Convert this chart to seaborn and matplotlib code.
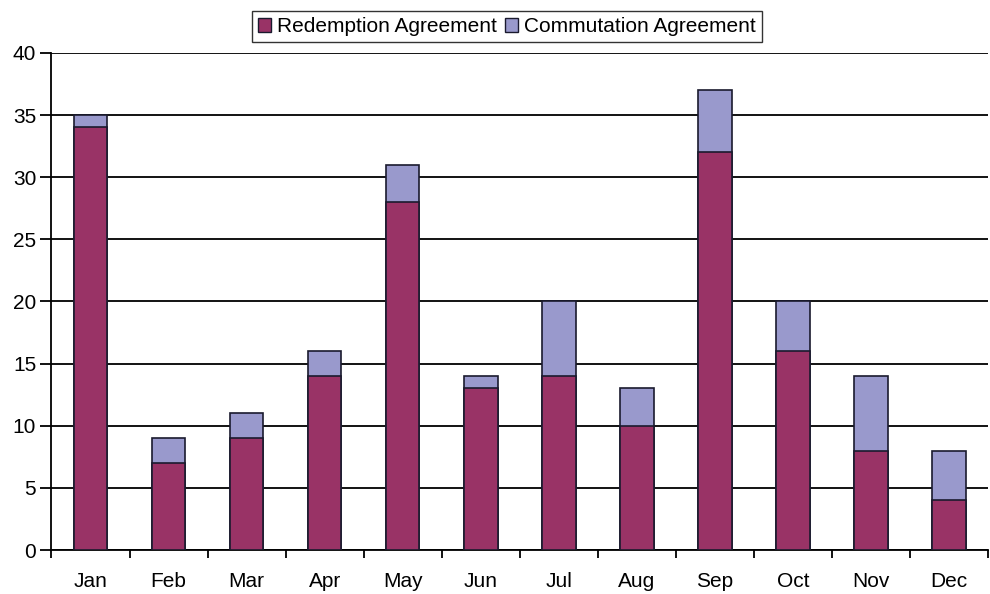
import numpy as np
import pandas as pd
import matplotlib
matplotlib.use("Agg")
import matplotlib.pyplot as plt
from matplotlib.patches import Patch
import seaborn as sns

# Monthly counts
months = ["Jan", "Feb", "Mar", "Apr", "May", "Jun", "Jul", "Aug", "Sep", "Oct", "Nov", "Dec"]
redemption = [34, 7, 9, 14, 28, 13, 14, 10, 32, 16, 8, 4]
commutation = [1, 2, 2, 2, 3, 1, 6, 3, 5, 4, 6, 4]

red_color = "#993366"
com_color = "#9999CC"
edge = "#1a1a2e"

df = pd.DataFrame({"month": months, "redemption": redemption, "commutation": commutation})
df["total"] = df["redemption"] + df["commutation"]

sns.set_style("white")
plt.rcParams["font.family"] = ["Liberation Sans", "DejaVu Sans"]
plt.rcParams["text.color"] = "black"
plt.rcParams["xtick.color"] = "black"
plt.rcParams["ytick.color"] = "black"

fig = plt.figure(figsize=(9.9, 5.94), dpi=100)
ax = fig.add_axes([0.052, 0.074, 0.946, 0.837])

# stacked bars: totals (commutation colour) behind, redemption in front
sns.barplot(data=df, x="month", y="total", color=com_color, width=0.43,
            edgecolor=edge, linewidth=1.2, saturation=1, ax=ax, zorder=3)
sns.barplot(data=df, x="month", y="redemption", color=red_color, width=0.43,
            edgecolor=edge, linewidth=1.2, saturation=1, ax=ax, zorder=4)

ax.set_ylim(0, 40)
ax.set_xlim(-0.5, 11.5)
ax.set_yticks(np.arange(0, 41, 5))
ax.yaxis.grid(True, color="black", linewidth=1.3, zorder=0)
ax.set_axisbelow(True)
ax.set_xlabel("")
ax.set_ylabel("")

for s in ["top", "right"]:
    ax.spines[s].set_visible(False)
for s in ["left", "bottom"]:
    ax.spines[s].set_color("black")
    ax.spines[s].set_linewidth(1.3)

ax.tick_params(axis="y", length=8, width=1.3, direction="out", labelsize=15, left=True, pad=3)
ax.tick_params(axis="x", which="major", length=0, labelsize=15, pad=16)
ax.set_xticks(np.arange(-0.5, 12, 1), minor=True)
ax.tick_params(axis="x", which="minor", length=6, width=1.3, direction="out", bottom=True)

handles = [Patch(facecolor=red_color, edgecolor=edge, label="Redemption Agreement"),
           Patch(facecolor=com_color, edgecolor=edge, label="Commutation Agreement")]
fig.legend(handles=handles, loc="center", bbox_to_anchor=(0.512, 0.955), ncol=2,
           frameon=True, fancybox=False, edgecolor="black", fontsize=15,
           handlelength=0.6, handleheight=0.6, handletextpad=0.3, columnspacing=0.4,
           borderpad=0.3)

fig.savefig("out.png", dpi=100)
